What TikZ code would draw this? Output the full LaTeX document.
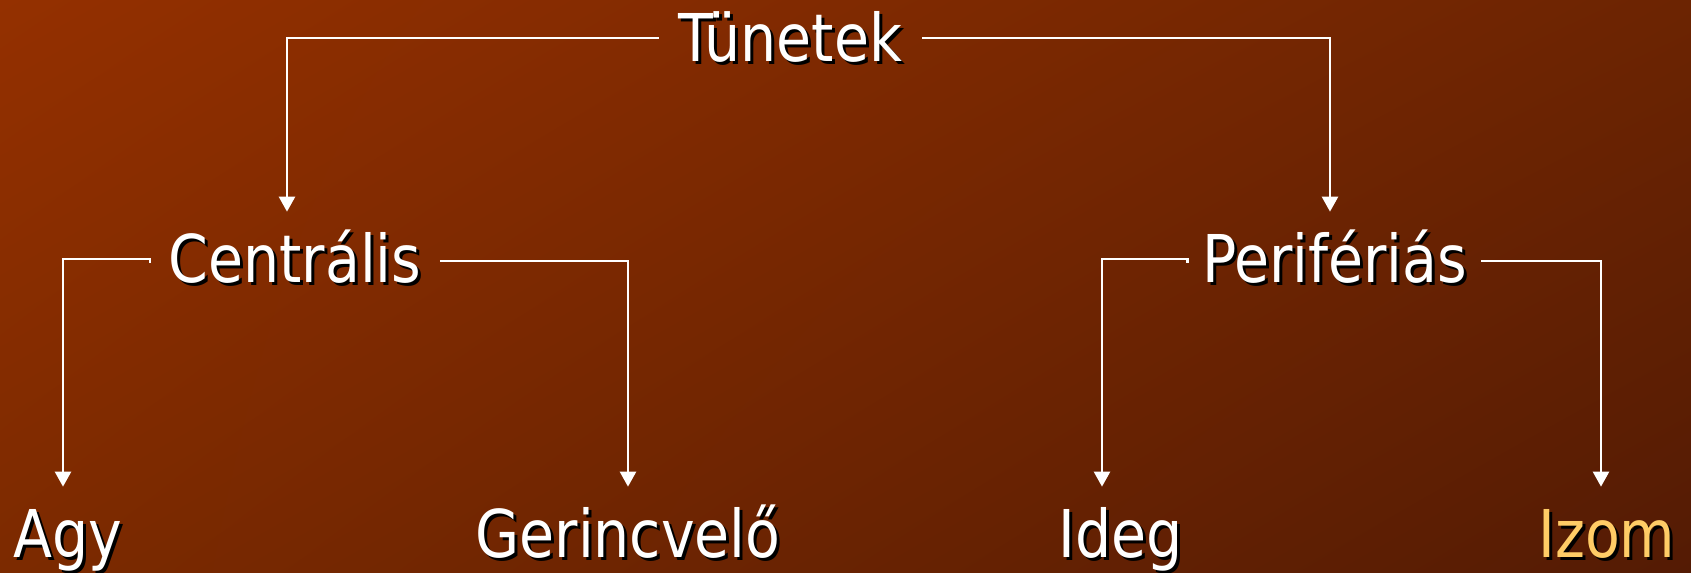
\documentclass[tikz,border=0pt]{standalone}
\usepackage{fontspec}
\setmainfont[FakeStretch=0.96]{DejaVu Sans Condensed}
\usepackage{tikz}
\usetikzlibrary{arrows.meta,calc,shadings}
\definecolor{bgtl}{RGB}{148,48,0}
\definecolor{bgtr}{RGB}{108,36,2}
\definecolor{bgbl}{RGB}{124,42,0}
\definecolor{bgbr}{RGB}{84,27,4}
\definecolor{izom}{RGB}{255,204,102}
% text with a small black drop shadow
\newcommand{\shd}[1]{\rlap{\kern0.06cm\raisebox{-0.06cm}{\color{black}#1}}#1}

\begin{document}
\begin{tikzpicture}[x=0.02cm,y=-0.02cm,
	txt/.style={text=white,font=\fontsize{37.5pt}{45pt}\selectfont,inner xsep=0pt,inner ysep=0.46cm,text height=0.96cm,text depth=0pt,anchor=base},
	lnk/.style={draw=white,line width=1.4pt,-{Triangle[length=0.3cm,width=0.32cm]}}]
		\useasboundingbox (0,0) rectangle (1691,573);
		\shade[upper left=bgtl,upper right=bgtr,lower left=bgbl,lower right=bgbr] (0,0) rectangle (1691,573);
		% levels
		\node[txt,minimum width=5.26cm] (tun) at (790.5,62) {\shd{Tünetek}};
		\node[txt,minimum width=5.78cm] (cen) at (295,283) {\shd{Centrális}};
		\node[txt,minimum width=5.86cm] (per) at (1334.5,283) {\shd{Perifériás}};
		\node[txt] (agy) at (68,558) {\shd{Agy}};
		\node[txt] (ger) at (628,558) {\shd{Gerincvelő}};
		\node[txt] (ide) at (1121,558) {\shd{Ideg}};
		\node[txt,text=izom] (izo) at (1607,558) {\shd{Izom}};
		% connectors
		\draw[lnk] (tun.west) -| ([xshift=-0.16cm]cen.north);
		\draw[lnk] (tun.east) -| ([xshift=-0.09cm]per.north);
		\draw[lnk] ([yshift=-0.08cm]cen.west) -- (cen.west) -| ([xshift=-0.1cm]agy.north);
		\draw[lnk] ([yshift=-0.04cm]cen.east) -| (ger.north);
		\draw[lnk] ([yshift=-0.08cm]per.west) -- (per.west) -| ([xshift=-0.38cm]ide.north);
		\draw[lnk] ([yshift=-0.04cm]per.east) -| ([xshift=-0.12cm]izo.north);
	\end{tikzpicture}
\end{document}
